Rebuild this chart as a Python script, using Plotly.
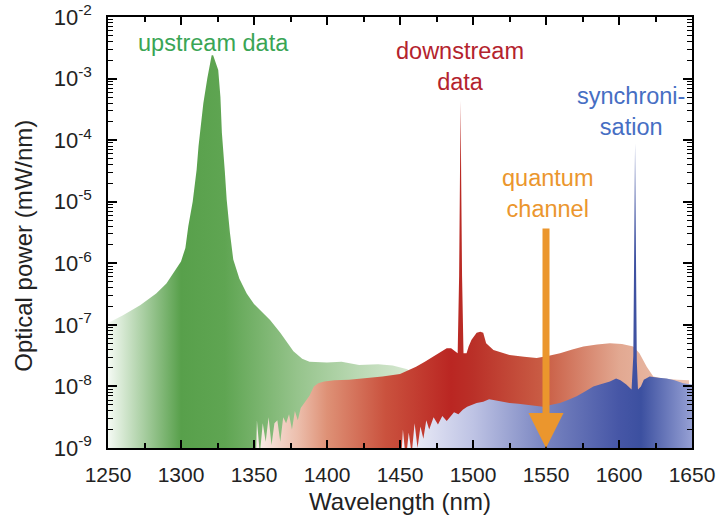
import plotly.graph_objects as go

# ---------------- data ----------------
# upstream data spectrum (green): wavelength in nm, log10 of power in mW/nm
green_wl = [1250, 1260, 1272, 1283, 1290, 1295, 1300, 1303, 1305, 1308, 1310.7, 1312,
            1315.3, 1318, 1320, 1321, 1322, 1323.5, 1325.5, 1327, 1328, 1330, 1331.3,
            1333.5, 1335.8, 1340, 1345, 1350, 1356, 1361, 1368, 1377, 1383, 1388, 1400,
            1410, 1422, 1435, 1445, 1455, 1458]
green_log = [-6.97, -6.85, -6.68, -6.49, -6.33, -6.16, -5.97, -5.75, -5.40, -5.00, -4.48, -4.10,
             -3.40, -3.00, -2.75, -2.62, -2.62, -2.72, -2.86, -3.30, -3.88, -4.50, -4.97,
             -5.50, -5.94, -6.25, -6.49, -6.66, -6.81, -6.92, -7.13, -7.43, -7.55, -7.60, -7.61,
             -7.60, -7.65, -7.64, -7.66, -7.72, -7.80]

# downstream data spectrum (red)
red_wl = [1351, 1352, 1354, 1356, 1358, 1360, 1362, 1364, 1366, 1368, 1370, 1372, 1374, 1376,
          1378, 1380, 1382, 1385, 1388, 1391, 1394, 1398, 1405, 1415, 1425, 1438, 1450, 1456,
          1461, 1467, 1473, 1478, 1482, 1485, 1487, 1489.5, 1490.5, 1491.1, 1491.5, 1491.9,
          1492.5, 1493.5, 1495.6, 1497, 1499, 1502.5, 1505, 1507, 1509, 1514, 1520, 1525, 1535,
          1543.6, 1552, 1559.6, 1568, 1575.6, 1585, 1593.8, 1602, 1609.8, 1614, 1619, 1623.5,
          1630, 1640, 1648]
red_log = [-9.50, -8.55, -9.10, -8.60, -8.90, -8.50, -8.95, -8.60, -8.55, -8.90, -8.50, -8.60,
           -8.45, -8.70, -8.40, -8.55, -8.35, -8.25, -8.15, -8.00, -7.95, -7.92, -7.90, -7.89,
           -7.87, -7.84, -7.80, -7.74, -7.68, -7.60, -7.51, -7.43, -7.38, -7.38, -7.41, -7.46,
           -6.20, -4.60, -3.36, -4.60, -6.20, -7.46, -7.46, -7.35, -7.24, -7.13, -7.11, -7.13,
           -7.30, -7.41, -7.46, -7.49, -7.52, -7.54, -7.50, -7.46, -7.40, -7.35, -7.32, -7.30,
           -7.31, -7.35, -7.46, -7.68, -7.84, -7.87, -7.89, -7.90]

# synchronisation spectrum (blue)
blue_wl = [1450, 1452, 1454, 1456, 1458, 1460, 1462, 1464, 1466, 1468, 1470, 1473, 1476, 1479,
           1482, 1484, 1487, 1490, 1493, 1496, 1499, 1502.5, 1507, 1511, 1514, 1518, 1525, 1531,
           1536.8, 1542, 1548, 1553, 1559.6, 1565, 1571, 1577, 1582.4, 1588, 1593.8, 1598, 1601,
           1605, 1608.6, 1609.8, 1610.5, 1611.0, 1611.5, 1612.2, 1613, 1615, 1617, 1621, 1627,
           1632.6, 1638, 1644, 1650]
blue_log = [-9.50, -8.70, -9.20, -8.75, -9.10, -8.60, -9.00, -8.65, -8.85, -8.55, -8.70, -8.50,
            -8.62, -8.48, -8.56, -8.50, -8.42, -8.45, -8.38, -8.33, -8.30, -8.27, -8.25, -8.21,
            -8.22, -8.24, -8.27, -8.28, -8.30, -8.31, -8.33, -8.30, -8.27, -8.22, -8.16, -8.08,
            -8.00, -7.96, -7.92, -7.87, -7.90, -7.97, -8.05, -7.50, -5.50, -4.05, -5.50, -7.60,
            -8.05, -8.00, -7.89, -7.84, -7.86, -7.87, -7.90, -7.95, -7.97]

# colour stops of the horizontal gradients (wavelength nm, colour)
green_stop_wl = [1250, 1300, 1330, 1380, 1420, 1458]
green_stop_col = ["rgb(245,250,244)", "rgb(88,160,75)", "rgb(95,165,82)",
                  "rgb(150,196,140)", "rgb(185,216,178)", "rgb(215,232,210)"]
red_stop_wl = [1351, 1380, 1400, 1440, 1485, 1500, 1550, 1600, 1648]
red_stop_col = ["rgb(250,240,236)", "rgb(236,190,172)", "rgb(222,145,118)", "rgb(202,82,62)",
                "rgb(186,38,34)", "rgb(186,48,40)", "rgb(202,95,70)", "rgb(226,168,145)",
                "rgb(236,196,178)"]
blue_stop_wl = [1450, 1500, 1550, 1600, 1615, 1650]
blue_stop_col = ["rgb(244,244,251)", "rgb(190,195,228)", "rgb(120,132,192)",
                 "rgb(70,86,166)", "rgb(60,80,160)", "rgb(150,160,212)"]

# annotations
labels = ["upstream data", "downstream<br>data", "synchroni-<br>sation", "quantum<br>channel"]
label_wl = [1322, 1491, 1608, 1551]
label_log = [-2.42, -2.80, -3.54, -4.86]
label_col = ["rgb(58,165,85)", "rgb(180,35,45)", "rgb(70,110,195)", "rgb(235,150,45)"]

qc_wl = 1550          # quantum channel wavelength
qc_arrow_top = -5.41  # log10 power at the arrow tail

x_ticks = [1250, 1300, 1350, 1400, 1450, 1500, 1550, 1600, 1650]
y_exponents = [-9, -8, -7, -6, -5, -4, -3, -2]

x_title = "Wavelength (nm)"
y_title = "Optical power (mW/nm)"

FLOOR = 1e-10
FONT = "Liberation Sans, Arial, sans-serif"
TXT = "#222"


def gradient(stop_wl, stop_col):
    lo, hi = stop_wl[0], stop_wl[-1]
    scale = [[(w - lo) / (hi - lo), c] for w, c in zip(stop_wl, stop_col)]
    return dict(type="horizontal", colorscale=scale, start=lo, stop=hi)


def area(wl, logp, stop_wl, stop_col, name):
    xs = list(wl) + [wl[-1], wl[0]]
    ys = [10 ** v for v in logp] + [FLOOR, FLOOR]
    return go.Scatter(x=xs, y=ys, mode="lines", line=dict(width=0), fill="toself",
                      fillgradient=gradient(stop_wl, stop_col), name=name,
                      hoverinfo="skip", showlegend=False)


fig = go.Figure()
fig.add_trace(area(green_wl, green_log, green_stop_wl, green_stop_col, "upstream"))
fig.add_trace(area(red_wl, red_log, red_stop_wl, red_stop_col, "downstream"))
fig.add_trace(area(blue_wl, blue_log, blue_stop_wl, blue_stop_col, "synchronisation"))

for t, w, l, c in zip(labels, label_wl, label_log, label_col):
    fig.add_annotation(x=w, y=l, text=t, showarrow=False, xref="x", yref="y",
                       font=dict(family=FONT, size=23.5, color=c))

fig.add_annotation(x=qc_wl, y=-9, ax=qc_wl, ay=qc_arrow_top, xref="x", yref="y",
                   axref="x", ayref="y", text="", showarrow=True, arrowhead=2,
                   arrowsize=1.0, arrowwidth=7, arrowcolor="rgb(235,150,45)", standoff=0)

# y-axis title (placed as a rotated annotation to match the reference position)
fig.add_annotation(x=-0.145, y=0.47, xref="paper", yref="paper", text=y_title,
                   textangle=-90, showarrow=False, xanchor="center", yanchor="middle",
                   font=dict(family=FONT, size=24, color=TXT))

minor_y = [m * 10.0 ** e for e in range(-9, -2) for m in range(2, 10)]

fig.update_layout(
    width=721, height=515,
    margin=dict(l=108, r=29, t=17, b=67, autoexpand=False),
    paper_bgcolor="white", plot_bgcolor="white",
    font=dict(family=FONT, color=TXT),
)
fig.update_xaxes(
    range=[1250, 1650], tickmode="array", tickvals=x_ticks, automargin=False,
    ticks="inside", ticklen=8, tickwidth=1.5, tickcolor="black",
    minor=dict(dtick=25, tick0=1250, ticks="inside", ticklen=5, tickwidth=1.5, tickcolor="black"),
    showline=True, linecolor="black", linewidth=1.5, mirror="ticks",
    showgrid=False, zeroline=False,
    tickfont=dict(size=21, color=TXT), ticklabelstandoff=7,
    title=dict(text=x_title, font=dict(size=24, color=TXT), standoff=9),
)
fig.update_yaxes(
    type="log", range=[-9, -2], tickmode="array", automargin=False,
    tickvals=[10.0 ** e for e in y_exponents],
    ticktext=["10<sup>%d</sup>" % e for e in y_exponents],
    ticks="inside", ticklen=9, tickwidth=1.5, tickcolor="black",
    minor=dict(tickmode="array", tickvals=minor_y, ticks="inside", ticklen=5,
               tickwidth=1, tickcolor="black"),
    showline=True, linecolor="black", linewidth=1.5, mirror="ticks",
    showgrid=False, zeroline=False,
    tickfont=dict(size=22, color=TXT), ticklabelstandoff=10,
)

fig.write_html("out.html", config={"displayModeBar": False},
               post_script="document.body.style.margin='0px';"
                           "document.body.style.overflow='hidden';")
